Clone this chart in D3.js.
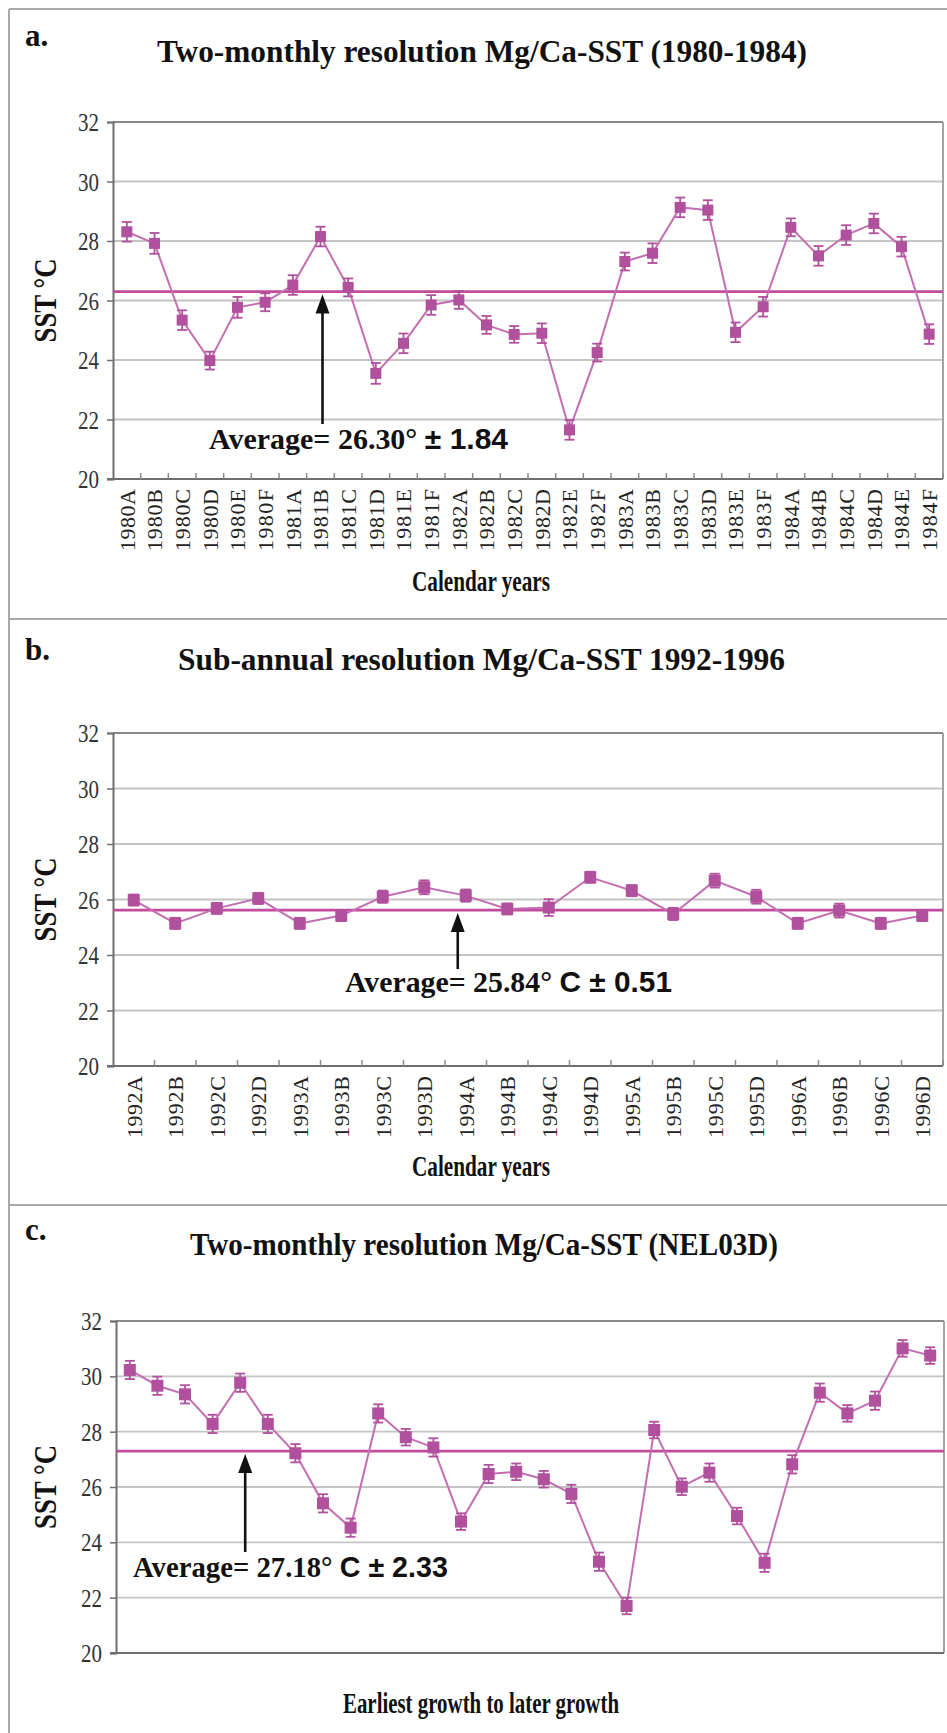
<!DOCTYPE html>
<html>
<head>
<meta charset="utf-8">
<script src="https://cdn.jsdelivr.net/npm/d3@7"></script>
<style>
  html, body { margin: 0; padding: 0; background: #fff; }
  svg { display: block; }
</style>
</head>
<body>
<script>
// panel a: two-monthly 1980-1984
const catsA = ['1980A','1980B','1980C','1980D','1980E','1980F','1981A','1981B','1981C','1981D','1981E','1981F',
  '1982A','1982B','1982C','1982D','1982E','1982F','1983A','1983B','1983C','1983D','1983E','1983F',
  '1984A','1984B','1984C','1984D','1984E','1984F'];
const sstA = [28.31, 27.92, 25.34, 23.98, 25.77, 25.94, 26.52, 28.15, 26.44, 23.55, 24.56, 25.85,
  26.02, 25.18, 24.86, 24.90, 21.65, 24.25, 27.31, 27.59, 29.13, 29.04, 24.93, 25.79,
  28.46, 27.50, 28.20, 28.59, 27.81, 24.87];
const errA = [0.33, 0.35, 0.33, 0.30, 0.35, 0.30, 0.33, 0.33, 0.30, 0.35, 0.33, 0.33,
  0.30, 0.30, 0.28, 0.33, 0.33, 0.30, 0.30, 0.33, 0.33, 0.33, 0.33, 0.33,
  0.30, 0.33, 0.33, 0.33, 0.33, 0.33];
const avgA = 26.3;

// panel b: sub-annual 1992-1996
const catsB = ['1992A','1992B','1992C','1992D','1993A','1993B','1993C','1993D','1994A','1994B',
  '1994C','1994D','1995A','1995B','1995C','1995D','1996A','1996B','1996C','1996D'];
const sstB = [25.98, 25.14, 25.68, 26.04, 25.14, 25.42, 26.10, 26.44, 26.14, 25.66,
  25.71, 26.80, 26.32, 25.48, 26.68, 26.10, 25.14, 25.60, 25.14, 25.42];
const errB = [0.20, 0.20, 0.20, 0.20, 0.20, 0.20, 0.22, 0.25, 0.22, 0.20,
  0.30, 0.20, 0.20, 0.22, 0.25, 0.25, 0.20, 0.25, 0.20, 0.20];
const avgB = 25.62;

// panel c: NEL03D, earliest to later growth
const catsC = d3.range(1, 31).map(String);
const sstC = [30.23, 29.66, 29.35, 28.28, 29.77, 28.28, 27.22, 25.41, 24.53, 28.66, 27.80, 27.43,
  24.75, 26.47, 26.55, 26.28, 25.75, 23.30, 21.70, 28.06, 26.01, 26.52, 24.95, 23.26,
  26.82, 29.41, 28.66, 29.12, 31.01, 30.75];
const errC = [0.33, 0.33, 0.33, 0.33, 0.33, 0.33, 0.33, 0.33, 0.33, 0.33, 0.30, 0.33,
  0.30, 0.33, 0.30, 0.30, 0.33, 0.33, 0.30, 0.30, 0.30, 0.33, 0.30, 0.33,
  0.33, 0.33, 0.30, 0.33, 0.30, 0.30];
const avgC = 27.3;

const yTicks = [20, 22, 24, 26, 28, 30, 32];

const W = 947, H = 1733;
const serif = "'Liberation Serif', 'Times New Roman', serif";
const sans = "'Liberation Sans', Arial, sans-serif";
const pink = '#b1509c';
const lineCol = '#c46eb2';
const avgCol = '#c24b9b';

const svg = d3.select('body').append('svg')
  .attr('width', W)
  .attr('height', H);

svg.append('rect').attr('width', W).attr('height', H).attr('fill', '#fff');

// outer frames of the three panels
const frame = svg.append('g').attr('stroke', '#a8a8a8').attr('stroke-width', 2);
frame.append('line').attr('x1', 9).attr('x2', 9).attr('y1', 9).attr('y2', H);
[9, 619, 1205].forEach(y => {
  frame.append('line').attr('x1', 9).attr('x2', W).attr('y1', y).attr('y2', y);
});

const panels = [
  {
    letter: 'a.', letterY: 46,
    title: 'Two-monthly resolution Mg/Ca-SST (1980-1984)', titleX: 157, titleW: 650, titleY: 62,
    cats: catsA, vals: sstA, errs: errA, avg: avgA,
    left: 113, right: 943, top: 122, bottom: 479,
    tickLabels: true, xTitle: 'Calendar years', xTitleY: 591, xTitleW: 138,
    note: [['Average= 26.30° ', serif], ['± 1.84', sans]],
    noteX: 209, noteW: 299, noteY: 449,
    arrowCat: '1981B', arrowDx: 2, arrowBottom: 424, marker: 11
  },
  {
    letter: 'b.', letterY: 660,
    title: 'Sub-annual resolution Mg/Ca-SST 1992-1996', titleX: 178, titleW: 607, titleY: 670,
    cats: catsB, vals: sstB, errs: errB, avg: avgB,
    left: 113, right: 943, top: 733, bottom: 1066,
    tickLabels: true, xTitle: 'Calendar years', xTitleY: 1176, xTitleW: 138,
    note: [['Average= 25.84° ', serif], ['C ± 0.51', sans]],
    noteX: 345, noteW: 327, noteY: 992,
    arrowCat: '1994A', arrowDx: -8, arrowBottom: 969, marker: 12
  },
  {
    letter: 'c.', letterY: 1240,
    title: 'Two-monthly resolution Mg/Ca-SST (NEL03D)', titleX: 190, titleW: 588, titleY: 1255,
    cats: catsC, vals: sstC, errs: errC, avg: avgC,
    left: 116, right: 944, top: 1321, bottom: 1653,
    tickLabels: false, xTitle: 'Earliest growth to later growth', xTitleY: 1713, xTitleW: 276,
    note: [['Average= 27.18° ', serif], ['C ± 2.33', sans]],
    noteX: 133, noteW: 315, noteY: 1577,
    arrowCat: '5', arrowDx: 5, arrowBottom: 1552, marker: 12
  }
];

panels.forEach(drawPanel);

function drawPanel(p) {
  const g = svg.append('g');

  const x = d3.scaleBand().domain(p.cats).range([p.left, p.right]).padding(0);
  const y = d3.scaleLinear().domain([20, 32]).range([p.bottom, p.top]);
  const cx = c => x(c) + x.bandwidth() / 2;

  g.append('text')
    .attr('x', 25).attr('y', p.letterY)
    .attr('font-family', serif).attr('font-weight', 'bold').attr('font-size', 31)
    .attr('fill', '#111')
    .text(p.letter);

  g.append('text')
    .attr('x', p.titleX).attr('y', p.titleY)
    .attr('font-family', serif).attr('font-weight', 'bold').attr('font-size', 32)
    .attr('textLength', p.titleW).attr('lengthAdjust', 'spacingAndGlyphs')
    .attr('fill', '#111')
    .text(p.title);

  // gridlines
  g.append('g')
    .selectAll('line')
    .data(yTicks.slice(1))
    .join('line')
    .attr('x1', p.left).attr('x2', p.right)
    .attr('y1', d => y(d)).attr('y2', d => y(d))
    .attr('stroke', d => d === 32 ? '#8a8a8a' : '#c4c4c4')
    .attr('stroke-width', 1.8);

  // right border
  g.append('line')
    .attr('x1', p.right).attr('x2', p.right)
    .attr('y1', p.top).attr('y2', p.bottom)
    .attr('stroke', '#9a9a9a').attr('stroke-width', 1.8);

  // y axis
  const yAxis = g.append('g')
    .attr('transform', `translate(${p.left},0)`)
    .call(d3.axisLeft(y).tickValues(yTicks).tickSize(6).tickPadding(8));
  yAxis.select('.domain').attr('stroke', '#6e6e6e').attr('stroke-width', 2);
  yAxis.selectAll('.tick line').attr('stroke', '#6e6e6e').attr('stroke-width', 1.5);
  yAxis.selectAll('.tick text')
    .attr('font-family', serif).attr('font-size', 25).attr('fill', '#333')
    .attr('textLength', 21).attr('lengthAdjust', 'spacingAndGlyphs')
    .attr('dy', '0.34em');

  // x axis line and inner ticks at category boundaries
  const xa = g.append('g');
  xa.append('line')
    .attr('x1', p.left - 6).attr('x2', p.right)
    .attr('y1', p.bottom).attr('y2', p.bottom)
    .attr('stroke', '#6e6e6e').attr('stroke-width', 2);
  if (p.tickLabels) {
    xa.selectAll('line.tk')
      .data(p.cats)
      .join('line')
      .attr('class', 'tk')
      .attr('x1', d => x(d) + x.bandwidth()).attr('x2', d => x(d) + x.bandwidth())
      .attr('y1', p.bottom).attr('y2', p.bottom - 6)
      .attr('stroke', '#8a8a8a').attr('stroke-width', 1.5);

    xa.selectAll('text')
      .data(p.cats)
      .join('text')
      .attr('transform', d => `translate(${cx(d)},${p.bottom + 10}) rotate(-90)`)
      .attr('text-anchor', 'end')
      .attr('dy', '0.36em')
      .attr('font-family', serif).attr('font-size', 22).attr('fill', '#222')
      .attr('textLength', 62).attr('lengthAdjust', 'spacing')
      .text(d => d);
  }

  g.append('text')
    .attr('x', 481).attr('y', p.xTitleY)
    .attr('text-anchor', 'middle')
    .attr('font-family', serif).attr('font-weight', 'bold').attr('font-size', 29)
    .attr('textLength', p.xTitleW).attr('lengthAdjust', 'spacingAndGlyphs')
    .attr('fill', '#111')
    .text(p.xTitle);

  g.append('text')
    .attr('transform', `translate(56,${(p.top + p.bottom) / 2}) rotate(-90)`)
    .attr('text-anchor', 'middle')
    .attr('font-family', serif).attr('font-weight', 'bold').attr('font-size', 31)
    .attr('textLength', 84).attr('lengthAdjust', 'spacingAndGlyphs')
    .attr('fill', '#111')
    .text('SST °C');

  // average line
  g.append('line')
    .attr('x1', p.left).attr('x2', p.right)
    .attr('y1', y(p.avg)).attr('y2', y(p.avg))
    .attr('stroke', avgCol).attr('stroke-width', 2.8);

  // series line
  const line = d3.line().x((d, i) => cx(p.cats[i])).y(d => y(d));
  g.append('path')
    .datum(p.vals)
    .attr('d', line)
    .attr('fill', 'none')
    .attr('stroke', lineCol).attr('stroke-width', 2);

  // error bars
  const eb = g.append('g').attr('stroke', pink).attr('stroke-width', 1.8);
  p.vals.forEach((v, i) => {
    const xc = cx(p.cats[i]);
    const e = p.errs[i];
    eb.append('line').attr('x1', xc).attr('x2', xc).attr('y1', y(v - e)).attr('y2', y(v + e));
    eb.append('line').attr('x1', xc - 5).attr('x2', xc + 5).attr('y1', y(v - e)).attr('y2', y(v - e));
    eb.append('line').attr('x1', xc - 5).attr('x2', xc + 5).attr('y1', y(v + e)).attr('y2', y(v + e));
  });

  // square markers
  const m = p.marker;
  g.append('g')
    .selectAll('rect')
    .data(p.vals)
    .join('rect')
    .attr('x', (d, i) => cx(p.cats[i]) - m / 2)
    .attr('y', d => y(d) - m / 2)
    .attr('width', m).attr('height', m)
    .attr('fill', pink);

  // arrow to the average line
  const ax = cx(p.arrowCat) + p.arrowDx;
  const tip = y(p.avg) + 3;
  g.append('line')
    .attr('x1', ax).attr('x2', ax)
    .attr('y1', p.arrowBottom).attr('y2', tip + 16)
    .attr('stroke', '#111').attr('stroke-width', 2.6);
  g.append('path')
    .attr('d', `M${ax},${tip} L${ax - 7},${tip + 19} L${ax + 7},${tip + 19} Z`)
    .attr('fill', '#111');

  const note = g.append('text')
    .attr('x', p.noteX).attr('y', p.noteY)
    .attr('font-weight', 'bold').attr('font-size', 30)
    .attr('textLength', p.noteW).attr('lengthAdjust', 'spacingAndGlyphs')
    .attr('fill', '#111');
  p.note.forEach(([t, f]) => {
    note.append('tspan').attr('font-family', f).text(t);
  });
}
</script>
</body>
</html>
